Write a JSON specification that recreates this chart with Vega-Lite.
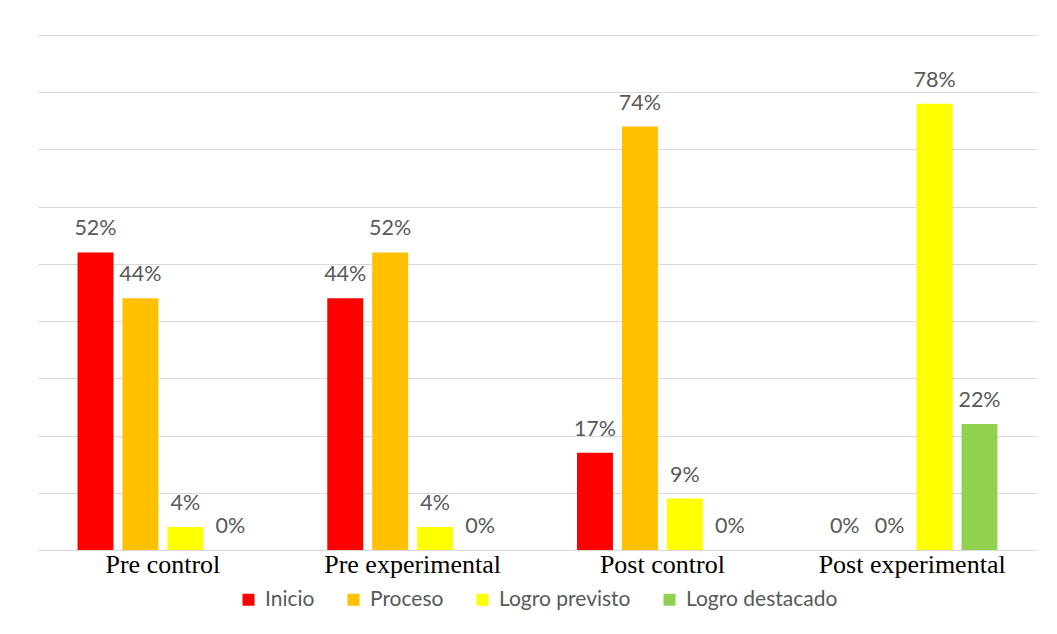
{
  "$schema": "https://vega.github.io/schema/vega-lite/v6.json",
  "width": 999,
  "height": 515,
  "autosize": {"type": "none"},
  "padding": {"left": 38, "top": 35, "right": 20, "bottom": 84},
  "background": "white",
  "config": {
    "view": {"stroke": null},
    "legend": {"layout": {"bottom": {"anchor": "middle"}}}
  },
  "data": {
    "values": [
      {"grupo": "Pre control", "nivel": "Inicio", "valor": 0.52},
      {"grupo": "Pre control", "nivel": "Proceso", "valor": 0.44},
      {"grupo": "Pre control", "nivel": "Logro previsto", "valor": 0.04},
      {"grupo": "Pre control", "nivel": "Logro destacado", "valor": 0.0},
      {"grupo": "Pre experimental", "nivel": "Inicio", "valor": 0.44},
      {"grupo": "Pre experimental", "nivel": "Proceso", "valor": 0.52},
      {"grupo": "Pre experimental", "nivel": "Logro previsto", "valor": 0.04},
      {"grupo": "Pre experimental", "nivel": "Logro destacado", "valor": 0.0},
      {"grupo": "Post control", "nivel": "Inicio", "valor": 0.17},
      {"grupo": "Post control", "nivel": "Proceso", "valor": 0.74},
      {"grupo": "Post control", "nivel": "Logro previsto", "valor": 0.09},
      {"grupo": "Post control", "nivel": "Logro destacado", "valor": 0.0},
      {"grupo": "Post experimental", "nivel": "Inicio", "valor": 0.0},
      {"grupo": "Post experimental", "nivel": "Proceso", "valor": 0.0},
      {"grupo": "Post experimental", "nivel": "Logro previsto", "valor": 0.78},
      {"grupo": "Post experimental", "nivel": "Logro destacado", "valor": 0.22}
    ]
  },
  "encoding": {
    "x": {
      "field": "grupo",
      "type": "nominal",
      "sort": ["Pre control", "Pre experimental", "Post control", "Post experimental"],
      "scale": {"paddingInner": 0, "paddingOuter": 0},
      "axis": {
        "title": null,
        "labelAngle": 0,
        "domain": false,
        "ticks": false,
        "labelFont": "Liberation Serif",
        "labelFontSize": 26,
        "labelColor": "#000000",
        "labelPadding": 1,
        "labelLimit": 0,
        "labelOverlap": false
      }
    },
    "xOffset": {
      "field": "nivel",
      "type": "nominal",
      "sort": ["Inicio", "Proceso", "Logro previsto", "Logro destacado"],
      "scale": {"paddingInner": 0.2, "paddingOuter": 0.88}
    },
    "y": {
      "field": "valor",
      "type": "quantitative",
      "scale": {"domain": [0, 0.9], "nice": false},
      "axis": {
        "title": null,
        "labels": false,
        "ticks": false,
        "domain": false,
        "values": [0, 0.1, 0.2, 0.3, 0.4, 0.5, 0.6, 0.7, 0.8, 0.9],
        "gridColor": "#d9d9d9",
        "gridWidth": 1
      }
    }
  },
  "layer": [
    {
      "mark": {"type": "bar"},
      "encoding": {
        "color": {
          "field": "nivel",
          "type": "nominal",
          "sort": ["Inicio", "Proceso", "Logro previsto", "Logro destacado"],
          "scale": {
            "domain": ["Inicio", "Proceso", "Logro previsto", "Logro destacado"],
            "range": ["#FF0000", "#FFC000", "#FFFF00", "#92D050"]
          },
          "legend": {
            "title": null,
            "orient": "bottom",
            "direction": "horizontal",
            "symbolType": "square",
            "symbolSize": 144,
            "symbolStrokeWidth": 0,
            "labelFont": "Lato",
            "labelFontSize": 21,
            "labelColor": "#595959",
            "labelOffset": 6,
            "columnPadding": 28,
            "offset": 12
          }
        }
      }
    },
    {
      "mark": {
        "type": "text",
        "baseline": "alphabetic",
        "dy": -17,
        "font": "Lato",
        "fontSize": 21.5,
        "color": "#595959"
      },
      "encoding": {
        "text": {"field": "valor", "type": "quantitative", "format": ".0%"}
      }
    }
  ]
}
